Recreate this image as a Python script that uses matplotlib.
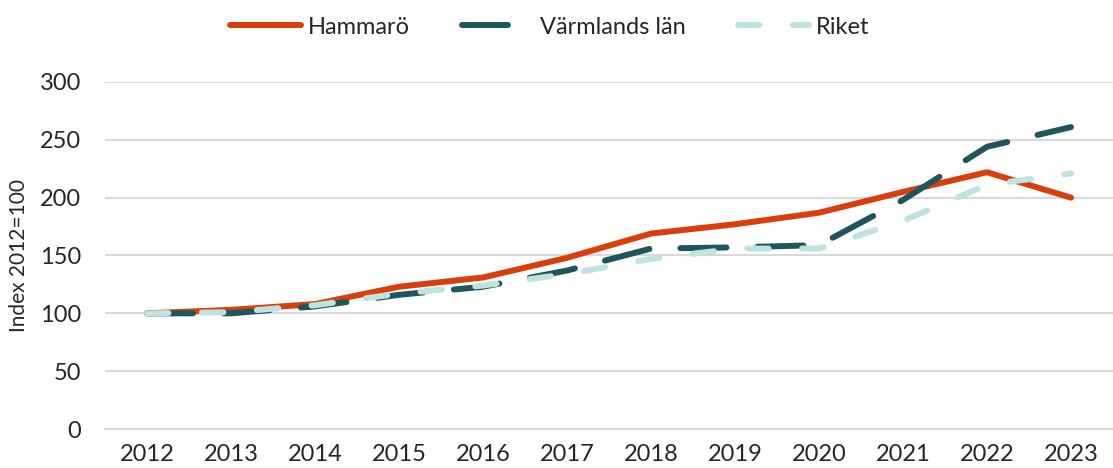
import matplotlib.pyplot as plt
import numpy as np

# data
years = ['2012', '2013', '2014', '2015', '2016', '2017', '2018', '2019', '2020', '2021', '2022', '2023']
hammaro = [100, 103, 108, 123, 131, 148, 169, 177, 187, 205, 222, 200]
varmland = [100, 100, 106, 116, 123, 137, 156, 157, 159, 198, 244, 261]
riket = [100, 101, 107, 117, 124, 134, 147, 156, 156, 180, 211, 221]

plt.rcParams['font.family'] = ['Lato', 'DejaVu Sans']
text_color = '#262626'

fig = plt.figure(figsize=(11.13, 4.68), dpi=100)
ax = fig.add_axes([105 / 1113, 1 - 429 / 468, 1 - 105 / 1113, (429 - 82) / 468])

x = np.arange(len(years))
ax.plot(x, hammaro, color='#D83F0C', lw=4.3, solid_capstyle='round',
        solid_joinstyle='round', label='Hammarö', zorder=3)
l2, = ax.plot(x, varmland, color='#1F565E', lw=4.3, dash_capstyle='round',
              label='Värmlands län', zorder=4)
l2.set_dashes((7.7, 5.2))
l3, = ax.plot(x, riket, color='#BFE3DF', lw=4.3, dash_capstyle='round',
              label='Riket', zorder=5)
l3.set_dashes((3.6, 5.6))

ax.set_xlim(-0.5, len(years) - 0.5)
ax.set_ylim(0, 300)
ax.set_yticks(range(0, 301, 50))
ax.set_xticks(x)
ax.set_xticklabels(years)
ax.yaxis.grid(True, color='#D9D9D9', lw=1.5)
ax.set_axisbelow(True)
for s in ax.spines.values():
    s.set_visible(False)
ax.spines['bottom'].set_visible(True)
ax.spines['bottom'].set_color('#D9D9D9')
ax.spines['bottom'].set_linewidth(1.5)
ax.tick_params(length=0, labelsize=17, labelcolor=text_color, pad=11)
ax.tick_params(axis='y', pad=17)
ax.set_ylabel('Index 2012=100', fontsize=15, color=text_color, labelpad=8)

fig.legend(loc='upper center', bbox_to_anchor=(0.494, 1.01), ncol=3, frameon=False,
           fontsize=17, handlelength=3.0, columnspacing=2.2,
           handletextpad=0.3, labelcolor=text_color)

fig.savefig('out.png', dpi=100)
